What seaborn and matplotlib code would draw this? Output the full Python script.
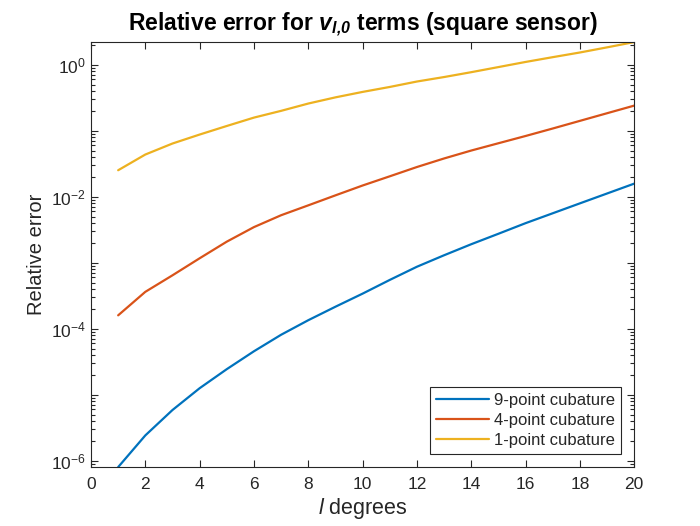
import numpy as np
import pandas as pd
import matplotlib
matplotlib.use("Agg")
import matplotlib.pyplot as plt
import matplotlib.ticker as mticker
import seaborn as sns


# degrees l and relative errors
degrees = list(range(1, 21))

err_9pt = [8.05e-7, 2.43e-6, 5.89e-6, 1.26e-5, 2.45e-5, 4.57e-5, 8.13e-5,
           1.35e-4, 2.16e-4, 3.41e-4, 5.50e-4, 8.71e-4, 1.30e-3, 1.91e-3,
           2.75e-3, 3.98e-3, 5.62e-3, 7.94e-3, 1.12e-2, 1.58e-2]

err_4pt = [1.60e-4, 3.63e-4, 6.46e-4, 1.17e-3, 2.09e-3, 3.47e-3, 5.25e-3,
           7.41e-3, 1.05e-2, 1.48e-2, 2.04e-2, 2.82e-2, 3.80e-2, 5.01e-2,
           6.46e-2, 8.32e-2, 0.108, 0.141, 0.184, 0.240]

err_1pt = [0.0252, 0.0436, 0.064, 0.0875, 0.118, 0.158, 0.200, 0.258,
           0.320, 0.387, 0.460, 0.556, 0.650, 0.770, 0.920, 1.10, 1.30,
           1.53, 1.83, 2.20]

series_names = ["9-point cubature", "4-point cubature", "1-point cubature"]
series_colors = ["#0072BD", "#D95319", "#EDB120"]

y_decades = [-6, -5, -4, -3, -2, -1, 0]


df = pd.DataFrame({
    "l": degrees * 3,
    "err": err_9pt + err_4pt + err_1pt,
    "method": [n for n in series_names for _ in degrees],
})

sns.set_style("ticks")
plt.rcParams["font.family"] = ["Liberation Sans", "DejaVu Sans"]
plt.rcParams["mathtext.fontset"] = "custom"
plt.rcParams["mathtext.rm"] = "Liberation Sans"
plt.rcParams["mathtext.it"] = "Liberation Sans:italic"
plt.rcParams["mathtext.bf"] = "Liberation Sans:bold:italic"

dark = "#262626"

fig = plt.figure(figsize=(7, 5.26), dpi=100)
ax = fig.add_axes([0.13, 0.112, 0.776, 0.808])

sns.lineplot(
    data=df,
    x="l",
    y="err",
    hue="method",
    hue_order=series_names,
    palette=series_colors,
    linewidth=1.6,
    ax=ax
)

ax.set_yscale("log")
ax.set_xlim(0, 20)
ax.set_ylim(min(err_9pt), max(err_1pt))

ax.set_xticks(np.arange(0, 21, 2))

# major tick every decade, label every second one (as in the reference)
ax.set_yticks([10.0 ** e for e in y_decades])
ax.set_yticklabels([r"$10^{%d}$" % e if e % 2 == 0 else "" for e in y_decades])
minor = [m * 10.0 ** e for e in [-7] + y_decades for m in range(2, 10)]
ax.yaxis.set_minor_locator(mticker.FixedLocator(minor))
ax.yaxis.set_minor_formatter(mticker.NullFormatter())
ax.set_ylim(min(err_9pt), max(err_1pt))

ax.tick_params(which="both", direction="in", top=True, right=True,
               colors=dark, labelcolor=dark, labelsize=12.5, width=0.8)
ax.tick_params(which="major", length=5)
ax.tick_params(which="minor", length=3)
ax.tick_params(axis="x", pad=7)

for side in ax.spines.values():
    side.set_visible(True)
    side.set_color(dark)
    side.set_linewidth(0.8)

ax.set_title(r"Relative error for $\mathbf{v_{l{,}0}}$ terms (square sensor)",
             fontsize=16.5, fontweight="bold", color="black", pad=8)

ax.set_xlabel(r"$l$ degrees", fontsize=15.5, color=dark, labelpad=3)

ax.set_ylabel("Relative error", fontsize=14.5, color=dark)

ax.legend(
    loc="lower right",
    fontsize=12,
    frameon=True,
    fancybox=False,
    framealpha=1,
    edgecolor=dark,
    borderaxespad=0.8,
    handlelength=3.2,
    handletextpad=0.3,
    labelspacing=0.3,
    borderpad=0.35,
    title=None
).get_frame().set_linewidth(0.8)

fig.savefig("out.png", dpi=100)
